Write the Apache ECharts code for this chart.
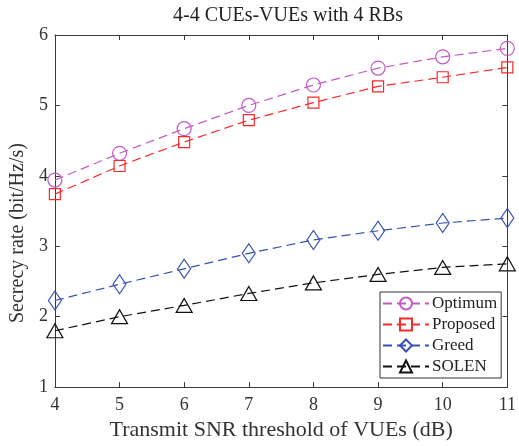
<!DOCTYPE html>
<html>
<head>
<meta charset="utf-8">
<script src="https://cdn.jsdelivr.net/npm/echarts@6/dist/echarts.min.js"></script>
<style>
  html, body { margin: 0; padding: 0; background: #fff; }
  #chart { width: 519px; height: 446px; }
</style>
</head>
<body>
<div id="chart"></div>
<script>
// x values: transmit SNR threshold (dB)
const snr = [4, 5, 6, 7, 8, 9, 10, 11];
const optimum = [3.94, 4.32, 4.67, 5.00, 5.29, 5.53, 5.69, 5.81];
const proposed = [3.74, 4.14, 4.48, 4.79, 5.04, 5.27, 5.40, 5.54];
const greed = [2.23, 2.46, 2.68, 2.90, 3.09, 3.22, 3.33, 3.40];
const solen = [1.80, 2.00, 2.16, 2.33, 2.48, 2.60, 2.70, 2.75];

const font = "'Liberation Serif', 'Times New Roman', serif";
const axisColor = "#3a3a3a";

function pairs(ys) {
  return snr.map((x, i) => [x, ys[i]]);
}

function makeSeries(name, ys, color, symbol, size) {
  return {
    name: name,
    type: "line",
    data: pairs(ys),
    symbol: symbol,
    symbolSize: size,
    showAllSymbol: true,
    lineStyle: { color: color, width: 1.2, type: [9, 5] },
    itemStyle: { color: "transparent", borderColor: color, borderWidth: 1.2 },
    emphasis: { disabled: true },
    z: 3,
  };
}

const chart = echarts.init(document.getElementById("chart"));

const tickCommon = {
  show: true,
  inside: true,
  length: 5,
  lineStyle: { color: axisColor, width: 1 },
};

chart.setOption({
  animation: false,
  title: {
    text: "4-4 CUEs-VUEs with 4 RBs",
    left: 283,
    textAlign: "center",
    top: 1,
    textStyle: { fontFamily: font, fontSize: 20, fontWeight: "normal", color: "#222" },
  },
  grid: { left: 52, right: 8, top: 35, bottom: 57 },
  legend: {
    orient: "vertical",
    left: 380,
    top: 292,
    padding: [3, 4, 3, 2],
    itemGap: 4,
    itemWidth: 46,
    itemHeight: 15,
    borderColor: "#333",
    borderWidth: 1,
    backgroundColor: "#fff",
    textStyle: { fontFamily: font, fontSize: 17, color: "#222", padding: [0, 0, 0, -2] },
    data: ["Optimum", "Proposed", "Greed", "SOLEN"],
  },
  xAxis: [
    {
      type: "value",
      min: 4,
      max: 11,
      interval: 1,
      name: "Transmit SNR threshold of VUEs (dB)",
      nameLocation: "middle",
      nameGap: 31,
      nameTextStyle: { fontFamily: font, fontSize: 22, color: "#333" },
      axisLine: { show: true, lineStyle: { color: axisColor } },
      axisTick: tickCommon,
      axisLabel: { fontFamily: font, fontSize: 18, color: "#333", margin: 9 },
      splitLine: { show: false },
    },
    {
      type: "value",
      position: "top",
      min: 4,
      max: 11,
      interval: 1,
      axisLine: { show: true, lineStyle: { color: axisColor } },
      axisTick: tickCommon,
      axisLabel: { show: false },
      splitLine: { show: false },
    },
  ],
  yAxis: [
    {
      type: "value",
      min: 1,
      max: 6,
      interval: 1,
      name: "Secrecy rate (bit/Hz/s)",
      nameLocation: "middle",
      nameGap: 25,
      nameTextStyle: { fontFamily: font, fontSize: 20, color: "#333", padding: [0, 44, 0, 0] },
      axisLine: { show: true, lineStyle: { color: axisColor } },
      axisTick: tickCommon,
      axisLabel: { fontFamily: font, fontSize: 18, color: "#333", margin: 7 },
      splitLine: { show: false },
    },
    {
      type: "value",
      position: "right",
      min: 1,
      max: 6,
      interval: 1,
      axisLine: { show: true, lineStyle: { color: axisColor } },
      axisTick: tickCommon,
      axisLabel: { show: false },
      splitLine: { show: false },
    },
  ],
  series: [
    makeSeries("Optimum", optimum, "#c45ac4", "circle", 14),
    makeSeries("Proposed", proposed, "#f52a2a", "rect", 11),
    makeSeries("Greed", greed, "#3552b0", "diamond", [13, 19]),
    makeSeries("SOLEN", solen, "#111111", "triangle", [16, 14]),
  ],
});
</script>
</body>
</html>
